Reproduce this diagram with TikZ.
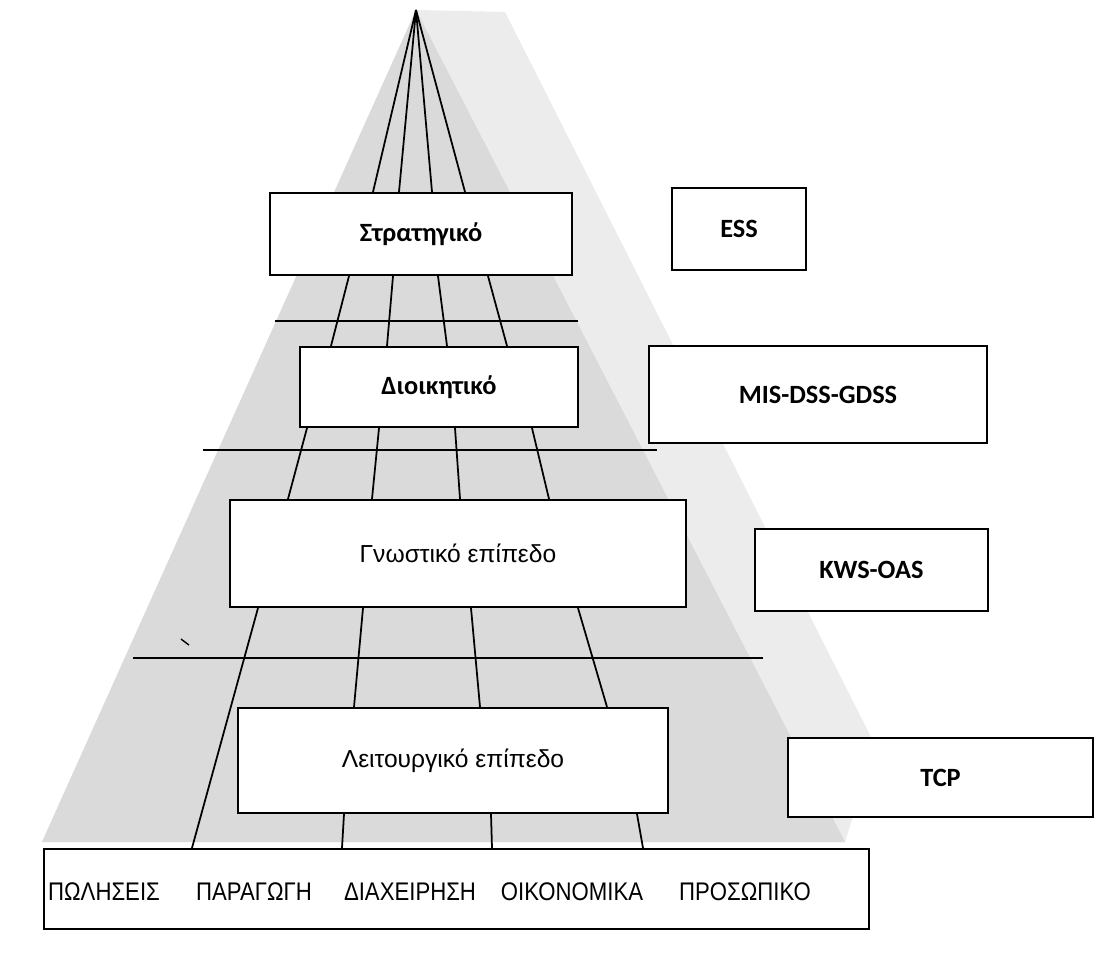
\documentclass[tikz,border=0pt]{standalone}
\usepackage{fontspec}
\setmainfont{Liberation Sans}
\newfontfamily\carl{Carlito}
\newfontfamily\narrow{Liberation Sans}[FakeStretch=0.87]
\usetikzlibrary{calc}
\definecolor{shadeD}{gray}{0.855}
\definecolor{shadeL}{gray}{0.925}
\begin{document}
\begin{tikzpicture}[x=0.02cm,y=-0.02cm,
  box/.style={draw=black, fill=white, line width=1.2pt, inner sep=0pt},
  lbl/.style={font=\carl\bfseries\fontsize{15}{18}\selectfont},
  grk/.style={font=\fontsize{14}{17}\selectfont},
  capl/.style={font=\narrow\fontsize{14.5}{17}\selectfont, inner sep=0pt},
  link/.style={line width=1pt},
  rule/.style={line width=1.2pt}]
\useasboundingbox[fill=white] (0,0) rectangle (1101,966);
% shading
\fill[shadeL] (416,10) -- (505,12) -- (875,745) -- (845,842) -- (42,842) -- cycle;
\fill[shadeD] (416,10) -- (845,842) -- (42,842) -- cycle;
% boxes
\node[box, lbl, minimum width=6.04cm, minimum height=1.64cm] (strat) at (421,234) {Στρατηγικό};
\node[box, lbl, minimum width=2.68cm, minimum height=1.64cm] (ess) at (739,229) {ESS};
\node[box, lbl, minimum width=5.56cm, minimum height=1.60cm] (dioik) at (439,387) {Διοικητικό};
\node[box, lbl, minimum width=6.76cm, minimum height=1.94cm] (mis) at (818,394.5) {MIS-DSS-GDSS};
\node[box, grk, minimum width=9.12cm, minimum height=2.14cm] (gnost) at (458,553.5) {Γνωστικό επίπεδο};
\node[box, lbl, minimum width=4.66cm, minimum height=1.64cm] (kws) at (871.5,570) {KWS-OAS};
\node[box, grk, minimum width=8.60cm, minimum height=2.10cm] (leit) at (453,760.5) {Λειτουργικό επίπεδο};
\node[box, lbl, minimum width=6.10cm, minimum height=1.58cm] (tcp) at (940.5,777.5) {TCP};
\node[box, minimum width=16.5cm, minimum height=1.60cm] (dept) at (456.5,889) {};
% department labels
\node[capl] (d1) at (104,892) {ΠΩΛΗΣΕΙΣ};
\node[capl] (d2) at (254,892) {ΠΑΡΑΓΩΓΗ};
\node[capl] (d3) at (410,892) {ΔΙΑΧΕΙΡΗΣΗ};
\node[capl] (d4) at (572,892) {ΟΙΚΟΝΟΜΙΚΑ};
\node[capl] (d5) at (745,892) {ΠΡΟΣΩΠΙΚΟ};
% apex lines
\coordinate (apex) at (416,10);
\draw[link] (apex) -- (373,0 |- strat.north);
\draw[link] (apex) -- (399,0 |- strat.north);
\draw[link] (apex) -- (432,0 |- strat.north);
\draw[link] (apex) -- (465,0 |- strat.north);
% strat -> dioik
\draw[link] (349,0 |- strat.south) -- (331,0 |- dioik.north);
\draw[link] (393,0 |- strat.south) -- (387,0 |- dioik.north);
\draw[link] (438,0 |- strat.south) -- (447,0 |- dioik.north);
\draw[link] (488,0 |- strat.south) -- (507,0 |- dioik.north);
% dioik -> gnost
\draw[link] (307,0 |- dioik.south) -- (288,0 |- gnost.north);
\draw[link] (379,0 |- dioik.south) -- (372,0 |- gnost.north);
\draw[link] (455,0 |- dioik.south) -- (460,0 |- gnost.north);
\draw[link] (532,0 |- dioik.south) -- (549,0 |- gnost.north);
% gnost -> leit / dept
\draw[link] (258,0 |- gnost.south) -- (192,0 |- dept.north);
\draw[link] (363,0 |- gnost.south) -- (354,0 |- leit.north);
\draw[link] (471,0 |- gnost.south) -- (480,0 |- leit.north);
\draw[link] (578,0 |- gnost.south) -- (607,0 |- leit.north);
% leit -> dept
\draw[link] (344,0 |- leit.south) -- (342,0 |- dept.north);
\draw[link] (491,0 |- leit.south) -- (492,0 |- dept.north);
\draw[link] (637,0 |- leit.south) -- (643,0 |- dept.north);
% horizontal rules
\draw[rule] (275,321) -- (578,321);
\draw[rule] (203,450) -- (657,450);
\draw[rule] (133,658) -- (763,658);
% stray mark
\draw[line width=0.8pt] (181,639) -- (189,645);
\end{tikzpicture}
\end{document}
